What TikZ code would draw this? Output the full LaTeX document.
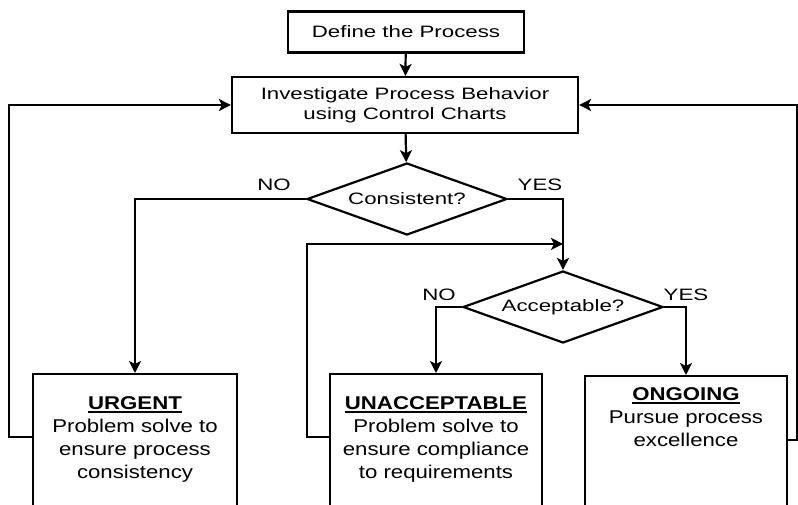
\documentclass[tikz,border=0pt]{standalone}
\usepackage{fontspec}
\newfontfamily\chartfont[FakeStretch=1.35]{Liberation Sans}
\newfontfamily\cardfont[FakeStretch=1.2]{Liberation Sans}
\usetikzlibrary{shapes.geometric,arrows.meta}
\newcommand\cardhead[1]{%
   \setbox0\hbox{\bfseries #1}%
   \rlap{\usebox0}\raisebox{-4pt}{\rule{\wd0}{1.8pt}}}

\begin{document}
\begin{tikzpicture}
   [
      x=1pt, y=-1pt, line width=2.2pt,
      >={Stealth[length=12pt,width=12pt,inset=3pt]},
      procbox/.style={rectangle, draw, fill=white, inner sep=0pt, align=center,
      font=\chartfont\fontsize{16.5}{20}\selectfont},
      decision/.style={diamond, draw, fill=white, inner sep=0pt, aspect=2.78,
      minimum width=200pt, minimum height=72pt,
      font=\chartfont\fontsize{16.5}{20}\selectfont},
      answer/.style={inner sep=0pt, font=\chartfont\fontsize{16.5}{20}\selectfont},
      card/.style={rectangle, draw, fill=white, anchor=north, inner sep=0pt,
      align=center, text height=35pt, text depth=140pt,
      font=\cardfont\fontsize{18.5}{23}\selectfont}
   ]
   \useasboundingbox (0,0) rectangle (798,504);
   \clip (0,0) rectangle (798,504);

   \node[procbox, minimum width=236pt, minimum height=41pt] (define) at (406,32)
      {Define the Process};
   \node[procbox, minimum width=346pt, minimum height=56pt] (invest) at (405,105)
      {Investigate Process Behavior\\using Control Charts};

   \node[decision] (consist) at (407,199) {Consistent?};
   \node[decision] (accept) at (563,307) {Acceptable?};

   \node[answer] (consistno) at (274,185) {NO};
   \node[answer] (consistyes) at (540,185) {YES};
   \node[answer] (acceptno) at (439,295) {NO};
   \node[answer] (acceptyes) at (686,295) {YES};

   \node[card, text width=204pt] (urgent) at (135,373)
      {\cardhead{URGENT}\\Problem solve to\\ensure process\\consistency};
   \node[card, text width=212pt] (unacc) at (436,373)
      {\cardhead{UNACCEPTABLE}\\Problem solve to\\ensure compliance\\to requirements};
   \node[card, text width=202pt, text height=24pt] (ongoing) at (686,375)
      {\cardhead{ONGOING}\\Pursue process\\excellence};

   \coordinate (join) at ([yshift=26pt]accept.north);

   \draw[->] (define) -- (invest);
   \draw[->] (invest) -- (consist);
   \draw[->] (consist.west) -| (urgent.north);
   \draw[->] (consist.east) -| (accept.north);
   \draw[->] (accept.west) -| (unacc.north);
   \draw[->] (accept.east) -| (ongoing.north);

   \draw[->] ([yshift=-64pt]urgent.north west) -- ++(-23,0) |- (invest.west);
   \draw[->] ([yshift=-64pt]unacc.north west) -- ++(-22,0) |- (join);
   \draw[->] ([yshift=-65pt]ongoing.north east) -- ++(9,0) |- (invest.east);
\end{tikzpicture}
\end{document}
